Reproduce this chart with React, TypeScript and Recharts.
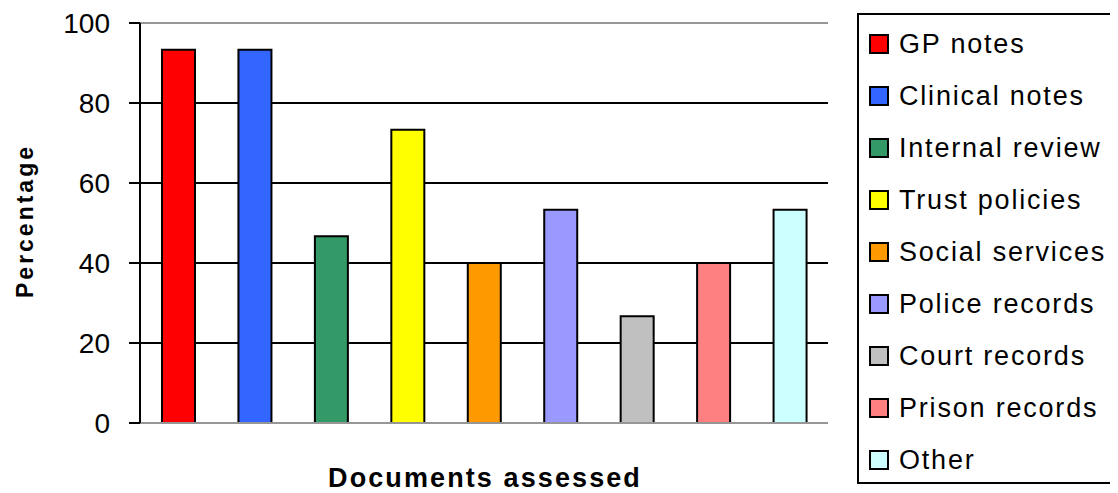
import {
  Bar,
  BarChart,
  CartesianGrid,
  Cell,
  Label,
  ReferenceLine,
  XAxis,
  YAxis,
} from 'recharts';

const categories = [
  'GP notes',
  'Clinical notes',
  'Internal review',
  'Trust policies',
  'Social services',
  'Police records',
  'Court records',
  'Prison records',
  'Other',
];
const percentages = [93.3, 93.3, 46.7, 73.3, 40, 53.3, 26.7, 40, 53.3];
const colors = [
  '#FF0000',
  '#3366FF',
  '#339966',
  '#FFFF00',
  '#FF9900',
  '#9999FF',
  '#C0C0C0',
  '#FF8080',
  '#CCFFFF',
];
const yTicks = [0, 20, 40, 60, 80, 100];

const font = '"Liberation Sans", Arial, sans-serif';

const data = categories.map((name, i) => ({ name, value: percentages[i] }));

function DocLegend() {
  return (
    <div
      style={{
        position: 'absolute',
        left: 849,
        top: 5,
        width: 256,
        height: 471,
        boxSizing: 'border-box',
        border: '2px solid #000',
        paddingTop: 3,
        paddingLeft: 10,
        fontFamily: font,
        fontSize: 27,
        letterSpacing: 1.8,
      }}
    >
      {categories.map((c, i) => (
        <div key={c} style={{ height: 52, display: 'flex', alignItems: 'center' }}>
          <span
            style={{
              width: 20,
              height: 20,
              boxSizing: 'border-box',
              border: '2px solid #000',
              background: colors[i],
              marginRight: 10,
              flexShrink: 0,
            }}
          />
          <span style={{ whiteSpace: 'nowrap' }}>{c}</span>
        </div>
      ))}
    </div>
  );
}

export default function App() {
  return (
    <div style={{ position: 'relative', width: 1110, height: 485 }}>
      <BarChart
        width={1110}
        height={485}
        data={data}
        margin={{ top: 15, right: 290, bottom: 10, left: 0 }}
      >
        <CartesianGrid vertical={false} stroke="#000" strokeWidth={2} />
        <XAxis
          dataKey="name"
          tick={false}
          tickLine={false}
          height={60}
          axisLine={{ stroke: '#C8C8C8', strokeWidth: 1.5 }}
        >
          <Label
            content={({ viewBox }: any) => (
              <text
                x={viewBox.x + viewBox.width / 2 + 1}
                y={viewBox.y + 64}
                textAnchor="middle"
                fontFamily={font}
                fontWeight="bold"
                fontSize={27}
                letterSpacing={2.1}
              >
                Documents assessed
              </text>
            )}
          />
        </XAxis>
        <YAxis
          width={132}
          domain={[0, 100]}
          ticks={yTicks}
          interval={0}
          tickSize={11}
          tickMargin={19}
          axisLine={{ stroke: '#000', strokeWidth: 2 }}
          tickLine={{ stroke: '#000', strokeWidth: 2 }}
          tick={{ fill: '#000', fontSize: 28, fontFamily: font }}
        >
          <Label
            content={({ viewBox }: any) => {
              const cx = 17;
              const cy = viewBox.y + viewBox.height / 2 - 2;
              return (
                <text
                  x={cx}
                  y={cy}
                  transform={`rotate(-90 ${cx} ${cy})`}
                  textAnchor="middle"
                  dominantBaseline="central"
                  fontFamily={font}
                  fontWeight="bold"
                  fontSize={23}
                  letterSpacing={3}
                >
                  Percentage
                </text>
              );
            }}
          />
        </YAxis>
        <ReferenceLine y={100} stroke="#C8C8C8" strokeWidth={1.5} />
        <Bar
          dataKey="value"
          barSize={33}
          stroke="#000"
          strokeWidth={2}
          isAnimationActive={false}
        >
          {data.map((d, i) => (
            <Cell key={d.name} fill={colors[i]} />
          ))}
        </Bar>
      </BarChart>
      <DocLegend />
    </div>
  );
}
